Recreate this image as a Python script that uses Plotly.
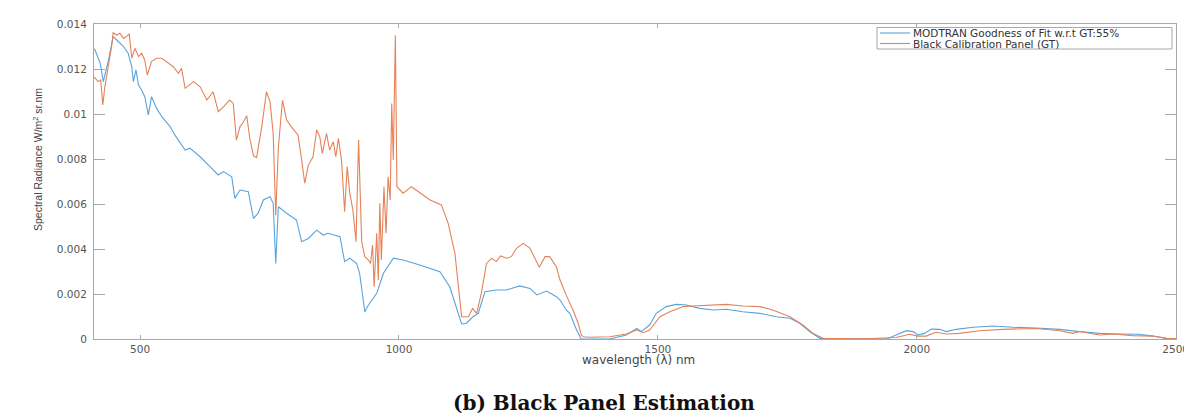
import plotly.graph_objects as go

# MODTRAN simulated radiance
wl_model = [411, 413, 423, 429, 439, 448, 455, 468, 477, 484, 487, 492, 497, 503, 509, 516,
            522, 532, 542, 558, 567, 587, 596, 616, 635, 651, 661, 673, 677, 683, 693, 709,
            719, 728, 738, 751, 757, 762, 767, 783, 802, 812, 825, 841, 854, 863, 886, 895,
            905, 918, 924, 934, 941, 957, 970, 989, 1008, 1040, 1060, 1079, 1098, 1111, 1121,
            1130, 1143, 1153, 1166, 1188, 1208, 1233, 1253, 1266, 1285, 1304, 1311, 1323,
            1330, 1343, 1352, 1407, 1439, 1459, 1468, 1484, 1497, 1516, 1536, 1555, 1581,
            1607, 1632, 1664, 1697, 1729, 1755, 1774, 1793, 1813, 1890, 1942, 1960, 1980,
            1993, 2002, 2015, 2028, 2044, 2057, 2076, 2109, 2147, 2186, 2231, 2276, 2314,
            2353, 2392, 2430, 2456, 2482, 2500]
rad_model = [0.01290, 0.01284, 0.01225, 0.01144, 0.01240, 0.01344, 0.01329, 0.01300, 0.01270,
             0.01210, 0.01144, 0.01196, 0.01129, 0.01107, 0.01077, 0.00996, 0.01077, 0.01025,
             0.00988, 0.00944, 0.00907, 0.00840, 0.00848, 0.00810, 0.00766, 0.00729, 0.00744,
             0.00729, 0.00721, 0.00625, 0.00662, 0.00655, 0.00536, 0.00559, 0.00618, 0.00632,
             0.00603, 0.00336, 0.00588, 0.00559, 0.00529, 0.00432, 0.00447, 0.00484, 0.00462,
             0.00470, 0.00455, 0.00344, 0.00359, 0.00336, 0.00292, 0.00121, 0.00151, 0.00203,
             0.00292, 0.00359, 0.00351, 0.00329, 0.00314, 0.00299, 0.00232, 0.00144, 0.00067,
             0.00070, 0.00099, 0.00114, 0.00210, 0.00218, 0.00218, 0.00236, 0.00225, 0.00196,
             0.00213, 0.00188, 0.00173, 0.00129, 0.00114, 0.00040, 0.00000, 0.00000, 0.00018,
             0.00047, 0.00033, 0.00062, 0.00114, 0.00144, 0.00154, 0.00151, 0.00136, 0.00129,
             0.00132, 0.00121, 0.00114, 0.00099, 0.00092, 0.00070, 0.00033, 0.00003, 0.00000,
             0.00000, 0.00018, 0.00037, 0.00033, 0.00018, 0.00025, 0.00044, 0.00043, 0.00033,
             0.00043, 0.00052, 0.00058, 0.00052, 0.00049, 0.00043, 0.00033, 0.00025, 0.00022,
             0.00021, 0.00013, 0.00003, 0.00002]

# Measured radiance of the black calibration panel (ground truth)
wl_panel = [411, 413, 419, 424, 428, 432, 439, 445, 448, 455, 461, 468, 474, 479, 484, 490,
            497, 503, 509, 514, 522, 532, 542, 554, 564, 574, 580, 587, 603, 616, 629, 641,
            651, 661, 673, 680, 686, 693, 699, 706, 712, 719, 725, 735, 744, 751, 757, 762,
            767, 775, 783, 792, 805, 812, 818, 825, 834, 841, 847, 852, 860, 866, 873, 878,
            883, 889, 895, 900, 905, 911, 917, 922, 928, 934, 941, 945, 949, 952, 957, 960,
            963, 966, 971, 975, 979, 983, 986, 989, 993, 996, 1008, 1024, 1040, 1060, 1082,
            1095, 1108, 1121, 1134, 1142, 1150, 1159, 1169, 1179, 1188, 1196, 1208, 1217,
            1227, 1240, 1253, 1262, 1271, 1282, 1291, 1304, 1311, 1323, 1336, 1346, 1352,
            1356, 1368, 1407, 1439, 1459, 1472, 1484, 1504, 1523, 1549, 1568, 1600, 1632,
            1664, 1697, 1722, 1755, 1780, 1800, 1819, 1900, 1960, 1986, 2002, 2018, 2037,
            2057, 2082, 2121, 2166, 2231, 2276, 2301, 2314, 2340, 2353, 2379, 2417, 2456,
            2482, 2500]
rad_panel = [0.01165, 0.01159, 0.01144, 0.01151, 0.01040, 0.01121, 0.01210, 0.01300, 0.01361,
             0.01351, 0.01359, 0.01336, 0.01344, 0.01356, 0.01248, 0.01292, 0.01255, 0.01270,
             0.01240, 0.01173, 0.01233, 0.01248, 0.01248, 0.01225, 0.01210, 0.01181, 0.01203,
             0.01114, 0.01144, 0.01121, 0.01062, 0.01099, 0.01010, 0.01032, 0.01062, 0.01047,
             0.00884, 0.00944, 0.00962, 0.00992, 0.00890, 0.00814, 0.00806, 0.00944, 0.01099,
             0.01055, 0.00914, 0.00550, 0.00850, 0.01062, 0.00973, 0.00944, 0.00907, 0.00796,
             0.00692, 0.00773, 0.00810, 0.00929, 0.00899, 0.00825, 0.00914, 0.00840, 0.00877,
             0.00810, 0.00892, 0.00796, 0.00566, 0.00766, 0.00648, 0.00573, 0.00432, 0.00884,
             0.00432, 0.00366, 0.00351, 0.00336, 0.00418, 0.00232, 0.00470, 0.00262, 0.00603,
             0.00351, 0.00677, 0.00470, 0.00721, 0.00618, 0.01047, 0.00796, 0.01350, 0.00677,
             0.00648, 0.00677, 0.00652, 0.00618, 0.00596, 0.00514, 0.00381, 0.00099, 0.00099,
             0.00136, 0.00114, 0.00203, 0.00336, 0.00359, 0.00344, 0.00369, 0.00359, 0.00366,
             0.00403, 0.00425, 0.00403, 0.00359, 0.00319, 0.00366, 0.00366, 0.00321, 0.00262,
             0.00195, 0.00129, 0.00070, 0.00018, 0.00010, 0.00008, 0.00010, 0.00022, 0.00040,
             0.00028, 0.00040, 0.00099, 0.00121, 0.00144, 0.00147, 0.00151, 0.00154, 0.00147,
             0.00144, 0.00129, 0.00099, 0.00062, 0.00025, 0.00003, 0.00001, 0.00007, 0.00021,
             0.00013, 0.00013, 0.00030, 0.00022, 0.00025, 0.00037, 0.00043, 0.00047, 0.00037,
             0.00025, 0.00033, 0.00025, 0.00018, 0.00022, 0.00015, 0.00013, 0.00003, 0.00002]

series_names = ["MODTRAN Goodness of Fit w.r.t GT:55%", "Black Calibration Panel (GT)"]
series_colors = ["#5AA3DA", "#E5825A"]

x_ticks = [500, 1000, 1500, 2000, 2500]
y_ticks = [0, 0.002, 0.004, 0.006, 0.008, 0.010, 0.012, 0.014]
y_tick_text = ["0", "0.002", "0.004", "0.006", "0.008", "0.01", "0.012", "0.014"]

W, H = 1184, 415
L, R, T, B = 94, 8, 24, 76
PW, PH = W - L - R, H - T - B


def px_x(p):
    return (p - L) / PW


def px_y(p):
    return (H - B - p) / PH


fig = go.Figure()
for wl, rad, name, color in [(wl_model, rad_model, series_names[0], series_colors[0]),
                             (wl_panel, rad_panel, series_names[1], series_colors[1])]:
    fig.add_trace(go.Scatter(x=wl, y=rad, mode="lines", name=name,
                             line=dict(color=color, width=1.1), showlegend=False))

axis_common = dict(showline=True, linecolor="#A8A8A8", linewidth=1, mirror="ticks",
                   ticks="inside", tickcolor="#A8A8A8", showgrid=False, zeroline=False,
                   automargin=False,
                   tickfont=dict(family="DejaVu Sans", size=10.5, color="#555555"))

fig.update_xaxes(range=[411, 2500.6], tickvals=x_ticks, ticklen=4,
                 ticklabeloverflow="allow", **axis_common)
fig.update_yaxes(range=[0, 0.014], tickvals=y_ticks, ticktext=y_tick_text, ticklen=11,
                 ticklabelstandoff=4, **axis_common)

shapes = []
annotations = []

# legend box in the upper right corner
shapes.append(dict(type="rect", xref="paper", yref="paper",
                   x0=px_x(877), x1=px_x(1172), y0=px_y(49), y1=px_y(27.5),
                   line=dict(color="#A8A8A8", width=1), fillcolor="white"))
for i, (name, color) in enumerate(zip(series_names, series_colors)):
    yy = px_y(33 + i * 10.5)
    shapes.append(dict(type="line", xref="paper", yref="paper",
                       x0=px_x(880), x1=px_x(910), y0=yy, y1=yy,
                       line=dict(color=color, width=1.1)))
    annotations.append(dict(text=name, xref="paper", yref="paper", x=px_x(912), y=yy,
                            xanchor="left", yanchor="middle", showarrow=False,
                            height=10, borderpad=0,
                            font=dict(family="DejaVu Sans", size=10.5, color="#333333")))

# axis titles
annotations.append(dict(text="wavelength (λ) nm", xref="paper", yref="paper",
                        x=px_x(638), y=px_y(360), xanchor="center", yanchor="middle",
                        showarrow=False,
                        font=dict(family="DejaVu Sans", size=12, color="#444444")))
annotations.append(dict(text="Spectral Radiance W/m<sup>2</sup> sr.nm", xref="paper", yref="paper",
                        x=px_x(37), y=px_y(160), xanchor="center", yanchor="middle",
                        textangle=-90, showarrow=False,
                        font=dict(family="Liberation Sans", size=10.5, color="#444444")))

# caption
annotations.append(dict(text="<b>(b) Black Panel Estimation</b>", xref="paper", yref="paper",
                        x=px_x(604), y=px_y(403), xanchor="center", yanchor="middle",
                        showarrow=False,
                        font=dict(family="DejaVu Serif", size=20, color="#111111")))

fig.update_layout(width=W, height=H, margin=dict(l=L, r=R, t=T, b=B, pad=0),
                  paper_bgcolor="white", plot_bgcolor="white",
                  shapes=shapes, annotations=annotations, showlegend=False)

fig.write_html("out.html")
